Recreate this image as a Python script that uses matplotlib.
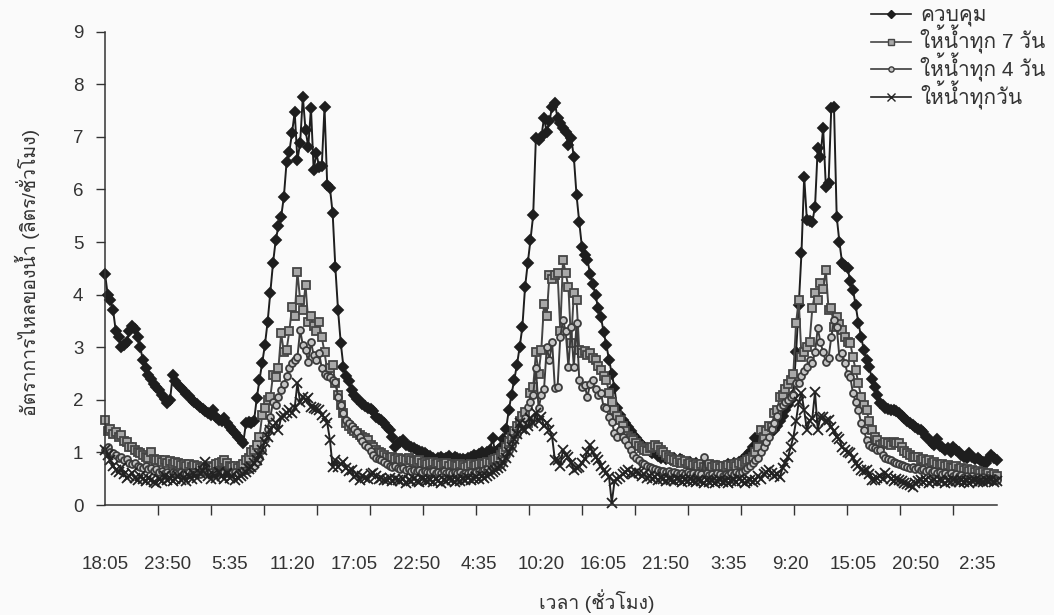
import matplotlib
matplotlib.use('Agg')
import matplotlib.pyplot as plt
from matplotlib import font_manager
from matplotlib.ft2font import FT2Font
from matplotlib.lines import Line2D
import numpy as np


# Finds an installed font that can draw Thai text
def find_thai_font():
    for entry in font_manager.fontManager.ttflist:
        try:
            if ord('ค') in FT2Font(entry.fname).get_charmap():
                return entry.name
        except Exception:
            continue
    return 'DejaVu Sans'


thai_font = find_thai_font()
plt.rcParams['font.family'] = ['Liberation Sans', thai_font]

# Flow rate (litres/hour), one reading every 15 minutes from 18:05
control = [
    4.40, 4.00, 3.90, 3.70, 3.30, 3.20, 3.00, 3.05, 3.10, 3.30,
    3.40, 3.35, 3.20, 3.00, 2.75, 2.60, 2.48, 2.40, 2.30, 2.25,
    2.18, 2.10, 2.02, 1.94, 2.00, 2.47, 2.35, 2.28, 2.22, 2.17,
    2.12, 2.07, 2.00, 1.96, 1.92, 1.86, 1.82, 1.78, 1.75, 1.72,
    1.80, 1.68, 1.62, 1.60, 1.65, 1.55, 1.48, 1.42, 1.36, 1.30,
    1.24, 1.18, 1.55, 1.58, 1.56, 1.60, 2.03, 2.38, 2.70, 3.04,
    3.48, 4.03, 4.60, 5.04, 5.30, 5.48, 5.86, 6.52, 6.71, 7.07,
    7.47, 6.56, 6.88, 7.76, 7.13, 6.81, 7.55, 6.37, 6.69, 6.43,
    6.45, 7.57, 6.08, 6.03, 5.55, 4.52, 3.70, 3.08, 2.62, 2.45,
    2.35, 2.18, 2.10, 2.02, 1.98, 1.92, 1.88, 1.85, 1.82, 1.78,
    1.67, 1.64, 1.62, 1.55, 1.49, 1.43, 1.30, 1.10, 1.18, 1.20,
    1.24, 1.15, 1.12, 1.10, 1.08, 1.05, 1.02, 1.00, 0.99, 0.96,
    0.94, 0.90, 0.86, 0.90, 0.92, 0.88, 0.90, 0.93, 0.88, 0.91,
    0.90, 0.87, 0.88, 0.86, 0.90, 0.92, 0.95, 0.93, 0.97, 1.00,
    0.95, 1.00, 1.05, 1.27, 1.00, 1.05, 1.10, 1.25, 1.45, 1.80,
    2.10, 2.38, 2.66, 3.00, 3.38, 4.14, 4.60, 5.04, 5.51, 6.98,
    6.95, 7.00, 7.36, 7.09, 7.30, 7.57, 7.64, 7.36, 7.26, 7.17,
    7.09, 6.84, 6.98, 6.62, 5.89, 5.38, 4.90, 4.75, 4.66, 4.40,
    4.20, 3.99, 3.74, 3.57, 3.29, 3.04, 2.76, 2.50, 2.22, 1.84,
    1.72, 1.62, 1.56, 1.48, 1.40, 1.33, 1.27, 1.20, 1.15, 1.10,
    1.08, 1.03, 0.98, 1.00, 0.93, 0.90, 0.95, 0.88, 0.90, 0.85,
    0.90, 0.82, 0.88, 0.85, 0.80, 0.78, 0.82, 0.75, 0.80, 0.72,
    0.75, 0.70, 0.72, 0.75, 0.68, 0.72, 0.75, 0.70, 0.72, 0.75,
    0.78, 0.72, 0.80, 0.78, 0.82, 0.85, 0.88, 0.95, 1.00, 1.10,
    1.27, 1.20, 1.25, 1.30, 1.30, 1.35, 1.40, 1.42, 1.50, 1.60,
    1.70, 1.80, 1.90, 2.00, 2.10, 2.90, 3.80, 4.79, 6.24, 5.42,
    5.40, 5.38, 5.67, 6.79, 6.62, 7.17, 6.05, 6.12, 7.55, 7.57,
    5.48, 5.00, 4.60, 4.55, 4.51, 4.25, 4.09, 3.80, 3.46, 3.20,
    2.95, 2.75, 2.62, 2.40, 2.24, 2.10, 1.94, 1.90, 1.85, 1.82,
    1.80, 1.80, 1.78, 1.75, 1.70, 1.65, 1.60, 1.56, 1.52, 1.48,
    1.45, 1.43, 1.38, 1.30, 1.25, 1.18, 1.15, 1.25, 1.12, 1.10,
    1.05, 1.08, 1.00, 1.10, 1.05, 1.00, 0.95, 0.92, 0.90, 0.99,
    0.92, 0.88, 0.90, 0.85, 0.82, 0.80, 0.88, 0.95, 0.90, 0.85,
]

every_7_days = [
    1.62, 1.40, 1.45, 1.35, 1.38, 1.30, 1.33, 1.22, 1.20, 1.10,
    1.10, 1.05, 1.00, 0.99, 0.95, 0.92, 0.90, 1.00, 0.88, 0.85,
    0.86, 0.82, 0.85, 0.80, 0.83, 0.78, 0.82, 0.80, 0.76, 0.78,
    0.75, 0.78, 0.72, 0.76, 0.74, 0.70, 0.73, 0.70, 0.72, 0.75,
    0.72, 0.78, 0.80, 0.82, 0.86, 0.80, 0.75, 0.72, 0.74, 0.70,
    0.75, 0.78, 0.85, 0.90, 1.00, 1.05, 1.15, 1.29, 1.71, 1.85,
    2.00, 2.05, 2.47, 2.43, 2.60, 3.27, 2.90, 2.95, 3.30, 3.76,
    3.60, 4.43, 3.90, 3.70, 4.18, 3.48, 3.60, 3.40, 3.30, 3.48,
    3.19, 2.90, 2.57, 2.60, 2.66, 2.32, 2.10, 1.90, 1.75, 1.56,
    1.50, 1.45, 1.40, 1.36, 1.33, 1.30, 1.27, 1.24, 1.15, 1.10,
    1.05, 1.00, 0.98, 0.95, 0.91, 0.90, 0.92, 0.88, 0.90, 0.86,
    0.88, 0.85, 0.90, 0.86, 0.84, 0.82, 0.85, 0.80, 0.82, 0.78,
    0.80, 0.82, 0.78, 0.80, 0.76, 0.78, 0.80, 0.75, 0.78, 0.76,
    0.74, 0.78, 0.76, 0.72, 0.75, 0.78, 0.74, 0.76, 0.78, 0.80,
    0.78, 0.82, 0.80, 0.85, 0.88, 0.90, 0.95, 1.00, 1.10, 1.20,
    1.30, 1.40, 1.50, 1.60, 1.70, 1.77, 1.56, 2.13, 2.24, 2.90,
    2.50, 2.95, 3.83, 3.60, 4.37, 4.30, 4.37, 4.41, 3.30, 4.66,
    4.41, 4.14, 3.08, 4.03, 3.90, 2.95, 2.89, 2.92, 2.85, 2.89,
    2.80, 2.76, 2.65, 2.57, 2.45, 2.38, 2.13, 1.95, 1.80, 1.70,
    1.62, 1.50, 1.40, 1.32, 1.28, 1.24, 1.18, 1.12, 1.08, 1.05,
    1.02, 1.08, 1.10, 1.15, 1.10, 1.05, 1.00, 0.95, 0.92, 0.88,
    0.85, 0.82, 0.86, 0.80, 0.84, 0.78, 0.80, 0.76, 0.78, 0.75,
    0.78, 0.72, 0.75, 0.78, 0.72, 0.76, 0.74, 0.70, 0.75, 0.72,
    0.76, 0.74, 0.78, 0.75, 0.80, 0.78, 0.82, 0.85, 0.88, 0.92,
    1.00, 1.10, 1.43, 1.30, 1.40, 1.50, 1.48, 1.75, 1.80, 2.05,
    2.10, 2.20, 2.30, 2.38, 2.50, 3.46, 3.90, 2.81, 2.90, 3.00,
    3.10, 3.74, 4.03, 3.90, 4.22, 4.10, 4.47, 3.71, 3.74, 3.38,
    3.57, 3.45, 3.33, 3.20, 3.10, 3.08, 2.81, 2.57, 2.32, 2.05,
    1.90, 1.80, 1.60, 1.43, 1.30, 1.24, 1.14, 1.16, 1.20, 1.18,
    1.15, 1.20, 1.18, 1.18, 1.10, 1.02, 0.98, 0.95, 0.92, 0.91,
    0.91, 0.86, 0.88, 0.84, 0.86, 0.80, 0.82, 0.78, 0.76, 0.78,
    0.74, 0.76, 0.72, 0.70, 0.74, 0.68, 0.70, 0.66, 0.68, 0.64,
    0.66, 0.62, 0.64, 0.60, 0.62, 0.58, 0.60, 0.56, 0.58, 0.55,
]

every_4_days = [
    1.05, 1.10, 1.00, 0.98, 0.95, 0.90, 0.92, 0.85, 0.88, 0.80,
    0.78, 0.80, 0.75, 0.72, 0.70, 0.74, 0.68, 0.70, 0.65, 0.68,
    0.62, 0.65, 0.60, 0.63, 0.58, 0.62, 0.60, 0.58, 0.62, 0.60,
    0.58, 0.62, 0.60, 0.63, 0.60, 0.58, 0.62, 0.65, 0.60, 0.62,
    0.58, 0.62, 0.60, 0.64, 0.62, 0.60, 0.63, 0.60, 0.62, 0.60,
    0.62, 0.64, 0.66, 0.68, 0.70, 0.75, 0.82, 0.90, 1.05, 1.25,
    1.45, 1.67, 1.96, 1.90, 2.05, 2.18, 2.30, 2.45, 2.60, 2.70,
    2.75, 2.81, 3.33, 3.04, 2.95, 2.72, 3.10, 2.85, 2.75, 2.89,
    2.60, 2.50, 2.45, 2.43, 2.38, 2.34, 2.05, 1.90, 1.75, 1.62,
    1.55, 1.50, 1.45, 1.39, 1.30, 1.22, 1.15, 1.10, 1.02, 0.95,
    0.90, 0.88, 0.86, 0.82, 0.78, 0.75, 0.72, 0.74, 0.70, 0.68,
    0.70, 0.66, 0.68, 0.65, 0.67, 0.64, 0.66, 0.62, 0.65, 0.63,
    0.62, 0.64, 0.60, 0.63, 0.61, 0.64, 0.60, 0.62, 0.60, 0.63,
    0.60, 0.62, 0.58, 0.61, 0.60, 0.63, 0.60, 0.62, 0.64, 0.65,
    0.66, 0.68, 0.65, 0.70, 0.72, 0.75, 0.78, 0.85, 0.95, 1.05,
    1.15, 1.25, 1.35, 1.45, 1.55, 1.65, 1.86, 1.95, 2.10, 2.60,
    1.84, 2.09, 2.20, 3.00, 2.76, 3.10, 2.22, 2.24, 3.20, 3.52,
    3.30, 2.62, 3.38, 2.62, 3.46, 2.38, 2.24, 2.28, 2.05, 2.30,
    2.38, 2.20, 2.10, 2.13, 1.86, 1.84, 1.67, 1.58, 1.37, 1.30,
    1.43, 1.30, 1.24, 1.15, 1.05, 0.95, 0.90, 0.85, 0.80, 0.78,
    0.75, 0.72, 0.70, 0.68, 0.66, 0.64, 0.65, 0.62, 0.64, 0.60,
    0.62, 0.60, 0.58, 0.61, 0.59, 0.62, 0.58, 0.60, 0.57, 0.60,
    0.58, 0.91, 0.60, 0.57, 0.59, 0.56, 0.60, 0.58, 0.56, 0.59,
    0.57, 0.60, 0.58, 0.62, 0.60, 0.63, 0.66, 0.70, 0.75, 0.80,
    0.85, 0.90, 1.00, 1.10, 1.20, 1.30, 1.45, 1.55, 1.70, 1.86,
    1.90, 1.95, 2.00, 2.05, 2.10, 2.32, 2.32, 2.45, 2.55, 2.62,
    2.76, 2.70, 2.90, 3.36, 3.10, 2.90, 2.72, 2.80, 3.19, 3.52,
    3.38, 2.81, 2.89, 2.70, 2.50, 2.43, 2.13, 1.95, 1.80, 1.56,
    1.43, 1.24, 1.15, 1.10, 1.08, 1.05, 1.05, 0.95, 0.90, 0.88,
    0.85, 0.82, 0.80, 0.78, 0.76, 0.74, 0.72, 0.70, 0.72, 0.68,
    0.70, 0.66, 0.68, 0.64, 0.66, 0.62, 0.64, 0.60, 0.62, 0.58,
    0.60, 0.57, 0.60, 0.56, 0.58, 0.55, 0.57, 0.54, 0.56, 0.52,
    0.55, 0.52, 0.54, 0.50, 0.53, 0.50, 0.52, 0.49, 0.51, 0.48,
]

every_day = [
    1.05, 0.95, 0.85, 0.75, 0.67, 0.62, 0.70, 0.58, 0.51, 0.55,
    0.60, 0.52, 0.48, 0.55, 0.50, 0.45, 0.52, 0.48, 0.44, 0.42,
    0.50, 0.46, 0.55, 0.48, 0.52, 0.45, 0.50, 0.55, 0.48, 0.52,
    0.46, 0.55, 0.50, 0.58, 0.52, 0.60, 0.65, 0.82, 0.55, 0.50,
    0.58, 0.52, 0.62, 0.55, 0.50, 0.60, 0.52, 0.55, 0.48, 0.52,
    0.55, 0.58, 0.62, 0.68, 0.72, 0.80, 0.85, 0.95, 1.05, 1.20,
    1.30, 1.43, 1.50, 1.55, 1.43, 1.67, 1.70, 1.75, 1.80, 1.75,
    1.85, 2.32, 1.95, 2.05, 2.00, 2.03, 1.86, 1.84, 1.82, 1.80,
    1.71, 1.65, 1.56, 1.24, 0.72, 0.85, 0.72, 0.78, 0.82, 0.70,
    0.65, 0.67, 0.53, 0.58, 0.48, 0.55, 0.52, 0.50, 0.58, 0.61,
    0.55, 0.50, 0.52, 0.47, 0.48, 0.52, 0.45, 0.50, 0.48, 0.45,
    0.50, 0.42, 0.48, 0.45, 0.50, 0.46, 0.44, 0.50, 0.47, 0.45,
    0.48, 0.44, 0.50, 0.46, 0.42, 0.48, 0.45, 0.50, 0.47, 0.44,
    0.48, 0.45, 0.50, 0.47, 0.52, 0.48, 0.50, 0.53, 0.50, 0.55,
    0.52, 0.55, 0.58, 0.62, 0.66, 0.70, 0.75, 0.82, 0.90, 1.00,
    1.10, 1.25, 1.35, 1.56, 1.45, 1.43, 1.50, 1.65, 1.55, 1.75,
    1.60, 1.67, 1.50, 1.56, 1.43, 1.29, 0.86, 0.86, 0.75, 1.05,
    0.95, 0.91, 0.80, 0.67, 0.70, 0.72, 0.80, 0.88, 1.00, 1.14,
    1.00, 0.91, 0.85, 0.75, 0.67, 0.60, 0.53, 0.04, 0.45, 0.50,
    0.53, 0.58, 0.62, 0.67, 0.60, 0.58, 0.62, 0.61, 0.55, 0.58,
    0.52, 0.55, 0.50, 0.53, 0.48, 0.52, 0.50, 0.46, 0.50, 0.48,
    0.45, 0.50, 0.47, 0.44, 0.48, 0.45, 0.50, 0.46, 0.43, 0.48,
    0.45, 0.42, 0.48, 0.44, 0.46, 0.42, 0.45, 0.48, 0.44, 0.46,
    0.42, 0.45, 0.48, 0.44, 0.50, 0.46, 0.42, 0.45, 0.48, 0.44,
    0.48, 0.55, 0.50, 0.58, 0.62, 0.67, 0.60, 0.55, 0.58, 0.53,
    0.70, 0.80, 0.91, 1.10, 1.29, 1.60, 1.96, 2.13, 1.80, 1.43,
    1.60, 1.65, 2.15, 1.43, 1.67, 1.67, 1.60, 1.62, 1.49, 1.40,
    1.29, 1.25, 1.10, 1.05, 1.00, 0.99, 0.90, 0.80, 0.75, 0.67,
    0.65, 0.67, 0.58, 0.48, 0.48, 0.52, 0.55, 0.50, 0.61, 0.55,
    0.50, 0.46, 0.50, 0.48, 0.45, 0.42, 0.40, 0.38, 0.34, 0.42,
    0.45, 0.48, 0.44, 0.47, 0.42, 0.46, 0.48, 0.44, 0.47, 0.45,
    0.42, 0.46, 0.44, 0.48, 0.45, 0.43, 0.47, 0.44, 0.46, 0.42,
    0.45, 0.48, 0.44, 0.46, 0.43, 0.47, 0.45, 0.48, 0.44, 0.46,
]

series_names = ['ควบคุม', 'ให้น้ำทุก 7 วัน', 'ให้น้ำทุก 4 วัน', 'ให้น้ำทุกวัน']
time_labels = ['18:05', '23:50', '5:35', '11:20', '17:05', '22:50', '4:35', '10:20',
               '16:05', '21:50', '3:35', '9:20', '15:05', '20:50', '2:35']
label_every = 23          # 23 readings = 5 h 45 min between labels
tick_every = 19.56        # spacing of the plain tick marks (in readings)

x = np.arange(len(control))

fig = plt.figure(figsize=(10.54, 6.15), dpi=100)
fig.patch.set_facecolor('#fafafa')
ax = fig.add_axes([105 / 1054, 110 / 615, 892 / 1054, 473.3 / 615])
ax.set_facecolor('none')

# Series styles: (values, line colour, marker, marker size, face colour)
styles = [
    (control, '#1e1e1e', 'D', 5.6, '#1e1e1e'),
    (every_7_days, '#454545', 's', 5.6, '#a8a8a8'),
    (every_4_days, '#3c3c3c', 'o', 5.0, '#c4c4c4'),
    (every_day, '#222222', 'x', 7.0, '#222222'),
]
handles = []
for (values, colour, marker, size, face), name in zip(styles, series_names):
    ax.plot(x, values, color=colour, lw=1.4, marker=marker, markersize=size,
            markerfacecolor=face, markeredgecolor=colour, markeredgewidth=1.3,
            clip_on=False, label=name)
    handles.append(Line2D([0], [0], color=colour, lw=1.2, marker=marker,
                          markersize=size * 0.75, markerfacecolor=face,
                          markeredgecolor=colour))

ax.set_xlim(0, 892 / 2.71)
ax.set_ylim(0, 9)

for side in ['top', 'right']:
    ax.spines[side].set_visible(False)
for side in ['left', 'bottom']:
    ax.spines[side].set_color('#333333')
    ax.spines[side].set_linewidth(1.1)

ax.set_yticks(range(10))
ax.tick_params(axis='y', direction='out', length=6.5, width=1, color='#333333',
               pad=9, labelsize=13.5, labelcolor='#333333')

# Time labels every 23 readings, tick marks on their own spacing
ax.set_xticks(x[::label_every][:len(time_labels)])
ax.set_xticklabels(time_labels)
ax.set_xticks(np.arange(17) * tick_every, minor=True)
ax.tick_params(axis='x', which='major', length=0, pad=37, labelsize=13.5,
               labelcolor='#333333')
ax.tick_params(axis='x', which='minor', direction='out', length=7, width=1,
               color='#333333')

fig.text(27 / 1054, 1 - 272 / 615, 'อัตราการไหลของน้ำ (ลิตร/ชั่วโมง)', rotation=90,
         ha='center', va='center', fontsize=14, color='#333333')
fig.text(597 / 1054, 1 - 601 / 615, 'เวลา (ชั่วโมง)', ha='center', va='center',
         fontsize=14, color='#333333')

fig.legend(handles, series_names, loc='upper left', bbox_to_anchor=(871 / 1054, 1 - 6 / 615),
           frameon=False, fontsize=15, handlelength=1.9, handletextpad=0.45,
           labelspacing=-0.06, borderpad=0.0, borderaxespad=0.0, labelcolor='#333333')

plt.savefig('out.png', dpi=100, facecolor=fig.get_facecolor())
